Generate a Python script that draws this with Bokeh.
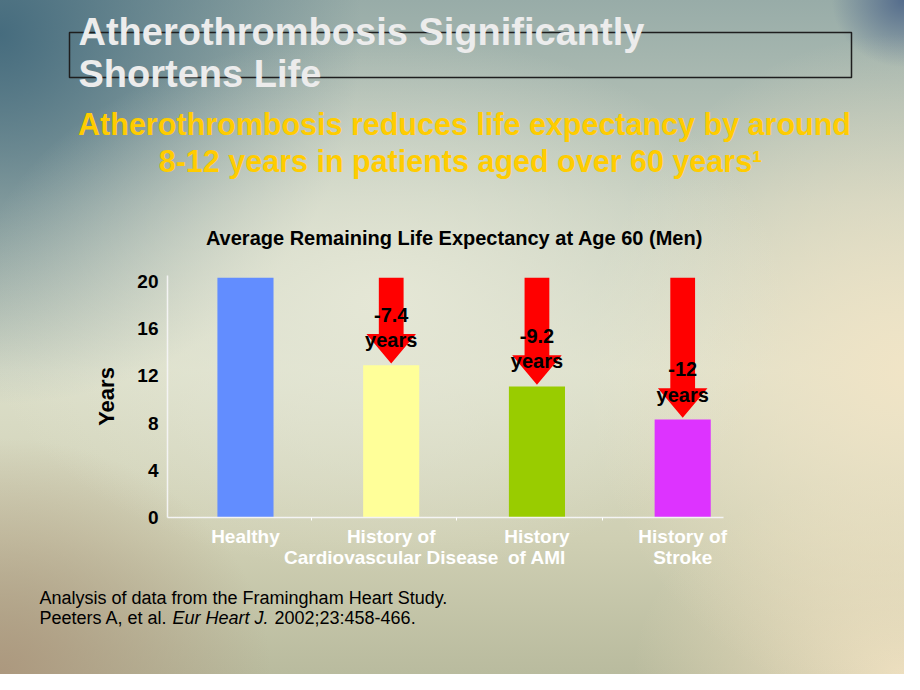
from bokeh.plotting import figure
from bokeh.layouts import column
from bokeh.models import FixedTicker, ColumnDataSource, Range1d
from bokeh.embed import file_html
from bokeh.resources import INLINE
from bokeh.core.properties import value

# ---------------- data ----------------
categories = ["Healthy", "History of\nCardiovascular Disease", "History\nof AMI", "History of\nStroke"]
life_years = [20.3, 12.9, 11.1, 8.3]
reduction_labels = ["", "-7.4\nyears", "-9.2\nyears", "-12\nyears"]
y_ticks = [0, 4, 8, 12, 16, 20]
bar_colors = ["#628DFF", "#FFFF99", "#99CC00", "#DD33FF"]

title_lines = ["Atherothrombosis Significantly", "Shortens Life"]
subtitle_lines = ["Atherothrombosis reduces life expectancy by around",
                  "8-12 years in patients aged over 60 years\u00b9"]
chart_title = "Average Remaining Life Expectancy at Age 60 (Men)"

FONT = "Liberation Sans"
W, H = 904, 674
TOP_H, CHART_H = 255, 325
BOT_H = H - TOP_H - CHART_H
FL, FR, FT, FB = 167, 723, 275, 517   # plot frame in page pixels


def text_panel(y0, h):
    f = figure(width=W, height=h, x_range=Range1d(0, W), y_range=Range1d(y0 + h, y0),
               output_backend="svg", toolbar_location=None,
               x_axis_location=None, y_axis_location=None,
               min_border=0, min_border_left=0, min_border_right=0,
               min_border_top=0, min_border_bottom=0)
    f.frame_align = False
    f.background_fill_alpha = 0
    f.border_fill_alpha = 0
    f.outline_line_color = None
    f.xgrid.visible = False
    f.ygrid.visible = False
    return f


def put(f, text, x, y, size, color, style="bold", align="left"):
    f.text(x=[x], y=[y], text=[text], text_font=value(FONT), text_font_style=style,
           text_font_size=size, text_color=color, text_align=align,
           text_baseline="alphabetic")


# ---------------- top texts ----------------
top = text_panel(0, TOP_H)
top.quad(left=[69], right=[851], top=[32], bottom=[77], fill_alpha=0,
         line_color="#1e1e1e", line_width=1.5)
put(top, title_lines[0], 78, 31, "38px", "#ececec")
put(top, title_lines[1], 78, 73, "38px", "#ececec")
put(top, subtitle_lines[0], 464, 123, "30.5px", "#FFCC00", align="center")
put(top, subtitle_lines[1], 460, 160, "30.5px", "#FFCC00", align="center")
put(top, chart_title, 454, 237, "20px", "black", align="center")

# ---------------- chart ----------------
p = figure(width=W, height=CHART_H, x_range=(-0.535, 3.28), y_range=(0, 20.5),
           output_backend="svg", toolbar_location=None,
           min_border_left=FL, min_border_right=W - FR,
           min_border_top=FT - TOP_H, min_border_bottom=TOP_H + CHART_H - FB)
p.frame_align = False
p.background_fill_alpha = 0
p.border_fill_alpha = 0
p.outline_line_color = None
p.xgrid.visible = False
p.ygrid.visible = False

src = ColumnDataSource(dict(x=list(range(len(categories))), top=life_years, color=bar_colors))
p.vbar(x="x", top="top", width=0.385, color="color", source=src, line_color=None)

sw, hw, hl, gap = 0.085, 0.17, 2.5, 0.15
axs, ays = [], []
for i in range(1, len(categories)):
    t0 = life_years[0]
    tip = life_years[i] + gap
    axs.append([i - sw, i + sw, i + sw, i + hw, i, i - hw, i - sw])
    ays.append([t0, t0, tip + hl, tip + hl, tip, tip + hl, tip + hl])
p.patches(axs, ays, fill_color="#FF0000", line_color=None)

p.text(x=list(range(1, len(categories))), y=life_years[1:], text=reduction_labels[1:],
       text_font=value(FONT), text_font_style="bold", text_font_size="20px",
       text_align="center", text_baseline="bottom", y_offset=-14,
       text_line_height=1.15, text_color="black")

xa = p.xaxis[0]
xa.ticker = FixedTicker(ticks=list(range(len(categories))),
                        minor_ticks=[i + 0.45 for i in range(len(categories) - 1)])
xa.major_label_overrides = {i: c for i, c in enumerate(categories)}
xa.major_tick_line_color = None
xa.minor_tick_line_color = "white"
xa.minor_tick_in = 0
xa.minor_tick_out = 3
xa.axis_line_color = "#f4f4f4"
xa.axis_line_width = 1.5
xa.major_label_text_font = FONT
xa.major_label_text_font_style = "bold"
xa.major_label_text_font_size = "19px"
xa.major_label_text_color = "white"
xa.major_label_text_line_height = 1.0
xa.major_label_standoff = 2

ya = p.yaxis[0]
ya.ticker = FixedTicker(ticks=y_ticks)
ya.major_tick_line_color = None
ya.minor_tick_line_color = None
ya.axis_line_color = "#f4f4f4"
ya.axis_line_width = 1.5
ya.major_label_text_font = FONT
ya.major_label_text_font_style = "bold"
ya.major_label_text_font_size = "19px"
ya.major_label_text_color = "black"
ya.major_label_standoff = 3
ya.axis_label = "Years"
ya.axis_label_text_font = FONT
ya.axis_label_text_font_style = "bold"
ya.axis_label_text_font_size = "22px"
ya.axis_label_text_color = "black"
ya.axis_label_standoff = 15

# ---------------- footnote ----------------
bot = text_panel(TOP_H + CHART_H, BOT_H)
put(bot, "Analysis of data from the Framingham Heart Study.", 39, 597, "18px", "black", style="normal")
put(bot, "Peeters A, et al.", 39, 617, "18px", "black", style="normal")
put(bot, "Eur Heart J.", 172, 617, "18px", "black", style="italic")
put(bot, "2002;23:458-466.", 274, 617, "18px", "black", style="normal")

page = column(top, p, bot, spacing=0)
page.styles = {"background": (
    "radial-gradient(ellipse 45% 40% at 42% 45%, rgba(229,231,214,1) 0%, rgba(229,231,214,0) 100%),"
    "radial-gradient(ellipse 35% 50% at 100% 55%, rgba(240,228,198,1) 0%, rgba(240,228,198,0) 100%),"
    "radial-gradient(ellipse 30% 30% at 100% 100%, rgba(236,222,190,1) 0%, rgba(236,222,190,0) 100%),"
    "radial-gradient(ellipse 30% 35% at 0% 100%, rgba(172,152,126,1) 0%, rgba(172,152,126,0) 100%),"
    "radial-gradient(ellipse 40% 55% at 0% 5%, rgba(70,108,126,1) 0%, rgba(70,108,126,0) 100%),"
    "radial-gradient(ellipse 8% 10% at 100% 0%, rgba(84,108,140,1) 0%, rgba(84,108,140,0) 100%),"
    "linear-gradient(180deg, #98aca8 0%, #c4cdbe 30%, #dcdfca 55%, #cfcfb3 80%, #b9bb9e 100%)"),
    "width": f"{W}px", "height": f"{H}px"}

open("out.html", "w").write(file_html(page, INLINE))
